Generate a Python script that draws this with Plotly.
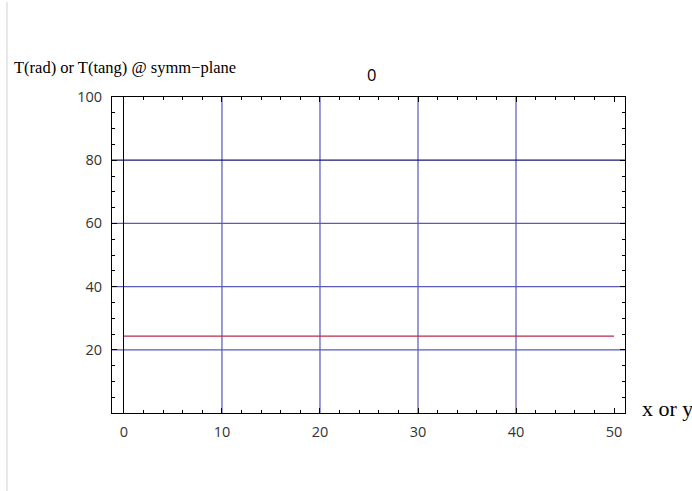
import plotly.graph_objects as go

# data
x_vals = [0, 50]
t_vals = [24.3, 24.3]
x_ticks = [0, 10, 20, 30, 40, 50]
y_ticks = [20, 40, 60, 80, 100]
grid_x = [10, 20, 30, 40]
grid_y_light = [20, 40, 60]
grid_y_dark = [80]

fig = go.Figure()
fig.add_trace(go.Scatter(x=x_vals, y=t_vals, mode="lines",
                         line=dict(color="#b8294f", width=1.3),
                         showlegend=False, hoverinfo="skip"))

shapes = []
for gx in grid_x:
    shapes.append(dict(type="line", xref="x", yref="paper", x0=gx, x1=gx, y0=0, y1=1,
                       line=dict(color="rgb(100,100,190)", width=1.3), layer="below"))
for gy in grid_y_light:
    shapes.append(dict(type="line", xref="paper", yref="y", x0=0, x1=1, y0=gy, y1=gy,
                       line=dict(color="rgb(90,90,185)", width=1.3), layer="below"))
for gy in grid_y_dark:
    shapes.append(dict(type="line", xref="paper", yref="y", x0=0, x1=1, y0=gy, y1=gy,
                       line=dict(color="rgb(25,25,115)", width=1.3), layer="below"))
# left page border line
shapes.append(dict(type="line", xref="paper", yref="paper", x0=-0.2047, x1=-0.2047,
                   y0=-0.25, y1=1.3, line=dict(color="#d0d0d0", width=1)))

tickfont = dict(family="Open Sans", size=14.5, color="#333333")

fig.update_layout(
    width=692, height=491,
    margin=dict(l=112, r=67, t=97, b=78),
    paper_bgcolor="white", plot_bgcolor="white",
    shapes=shapes,
    xaxis=dict(range=[-1.22, 51.12], tickvals=x_ticks, ticks="inside", ticklen=5,
               tickcolor="black", showline=True, linecolor="black", linewidth=1,
               mirror="ticks", showgrid=False, zeroline=True, zerolinecolor="black",
               zerolinewidth=1, tickfont=tickfont, ticklabelstandoff=6,
               minor=dict(dtick=2, tick0=0, ticks="inside", ticklen=3, tickcolor="black",
                          showgrid=False)),
    yaxis=dict(range=[0, 100], tickvals=y_ticks, ticks="inside", ticklen=5,
               tickcolor="black", showline=True, linecolor="black", linewidth=1,
               mirror="ticks", showgrid=False, zeroline=False, tickfont=tickfont,
               ticklabelstandoff=6,
               minor=dict(dtick=5, tick0=0, ticks="inside", ticklen=3, tickcolor="black",
                          showgrid=False)),
    annotations=[
        dict(text="T(rad) or T(tang) @ symm\u2212plane", xref="paper", yref="paper",
             x=-0.195, y=1.092, xanchor="left", yanchor="middle", showarrow=False,
             font=dict(family="Liberation Serif", size=16.5, color="black")),
        dict(text="0", xref="paper", yref="paper", x=0.505, y=1.07,
             xanchor="center", yanchor="middle", showarrow=False,
             font=dict(family="Open Sans", size=16.5, color="black")),
        dict(text="x or y", xref="paper", yref="paper", x=1.03, y=0.015,
             xanchor="left", yanchor="middle", showarrow=False,
             font=dict(family="Liberation Serif", size=22, color="black")),
    ],
)

fig.write_html("out.html")
